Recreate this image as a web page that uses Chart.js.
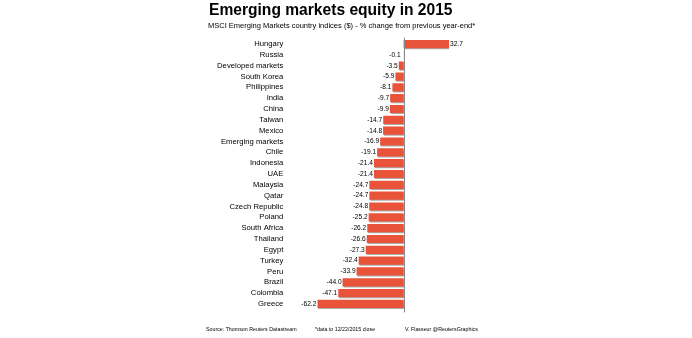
<!DOCTYPE html>
<html>
<head>
<meta charset="utf-8">
<script src="https://cdn.jsdelivr.net/npm/chart.js@4"></script>
<style>
  html, body { margin: 0; padding: 0; background: #fff; }
  #wrap { position: relative; width: 692px; height: 338px; overflow: hidden; font-family: "Liberation Sans", Arial, sans-serif; }
  #c { position: absolute; left: 0; top: 0; }
  .t { position: absolute; white-space: nowrap; color: #000; }
  #title { left: 209px; top: 1px; font-size: 15.6px; font-weight: bold; }
  #sub { left: 208px; top: 21px; font-size: 7.5px; }
  .foot { top: 326px; font-size: 5.3px; }
</style>
</head>
<body>
<div id="wrap">
  <canvas id="c" width="692" height="338"></canvas>
  <div class="t" id="title">Emerging markets equity in 2015</div>
  <div class="t" id="sub">MSCI Emerging Markets country indices ($) - % change from previous year-end*</div>
  <div class="t foot" style="left:206px">Source: Thomson Reuters Datastream</div>
  <div class="t foot" style="left:315px">*data to 12/22/2015 close</div>
  <div class="t foot" style="left:405px">V. Flasseur @ReutersGraphics</div>
</div>
<script>
const categories = ["Hungary","Russia","Developed markets","South Korea","Philippines","India","China","Taiwan","Mexico","Emerging markets","Chile","Indonesia","UAE","Malaysia","Qatar","Czech Republic","Poland","South Africa","Thailand","Egypt","Turkey","Peru","Brazil","Colombia","Greece"];
const changes = [32.7,-0.1,-3.5,-5.9,-8.1,-9.7,-9.9,-14.7,-14.8,-16.9,-19.1,-21.4,-21.4,-24.7,-24.7,-24.8,-25.2,-26.2,-26.6,-27.3,-32.4,-33.9,-44.0,-47.1,-62.2];

const shadowPlugin = {
  id: 'shadow',
  beforeDatasetsDraw(chart) {
    const ctx = chart.ctx;
    ctx.save();
    ctx.shadowColor = 'rgba(150,150,150,0.8)';
    ctx.shadowOffsetX = 1;
    ctx.shadowOffsetY = 1;
    ctx.shadowBlur = 0;
  },
  afterDatasetsDraw(chart) {
    chart.ctx.restore();
  }
};

const labelPlugin = {
  id: 'vals',
  afterDatasetsDraw(chart) {
    const ctx = chart.ctx;
    const meta = chart.getDatasetMeta(0);
    const xs = chart.scales.x;
    const ys = chart.scales.y;
    const x0 = xs.getPixelForValue(0);
    ctx.save();
    ctx.strokeStyle = '#888';
    ctx.lineWidth = 1;
    ctx.beginPath();
    ctx.moveTo(Math.round(x0) + 0.5, ys.top - 1);
    ctx.lineTo(Math.round(x0) + 0.5, ys.bottom + 3);
    ctx.stroke();
    ctx.font = '6.6px "Liberation Sans", Arial, sans-serif';
    ctx.fillStyle = '#000';
    ctx.textBaseline = 'middle';
    meta.data.forEach((bar, i) => {
      const v = changes[i];
      const txt = v.toFixed(1);
      if (v >= 0) {
        ctx.textAlign = 'left';
        ctx.fillText(txt, bar.x + 1, bar.y);
      } else {
        ctx.textAlign = 'right';
        ctx.fillText(txt, Math.min(bar.x, x0 - 2) - 1, bar.y);
      }
    });
    ctx.restore();
  }
};

new Chart(document.getElementById('c'), {
  type: 'bar',
  data: {
    labels: categories,
    datasets: [{
      data: changes,
      backgroundColor: '#e8533a',
      borderWidth: 0,
      barPercentage: 0.8,
      categoryPercentage: 0.95
    }]
  },
  options: {
    indexAxis: 'y',
    responsive: false,
    animation: false,
    devicePixelRatio: 1,
    layout: { padding: { left: 197.3, right: 243, top: 38.6, bottom: 28.6 } },
    plugins: { legend: { display: false }, tooltip: { enabled: false }, title: { display: false } },
    scales: {
      x: { display: false, min: -62.2, max: 32.7 },
      y: {
        afterFit(scale) {
          scale.width = 120;
          scale.paddingTop = 0; scale.paddingBottom = 0;
          scale.paddingLeft = 0; scale.paddingRight = 0;
        },
        grid: { display: false, drawTicks: false },
        border: { display: false },
        ticks: { padding: 34, color: '#000', font: { family: '"Liberation Sans", Arial, sans-serif', size: 7.7 }, autoSkip: false }
      }
    }
  },
  plugins: [shadowPlugin, labelPlugin]
});
</script>
</body>
</html>
